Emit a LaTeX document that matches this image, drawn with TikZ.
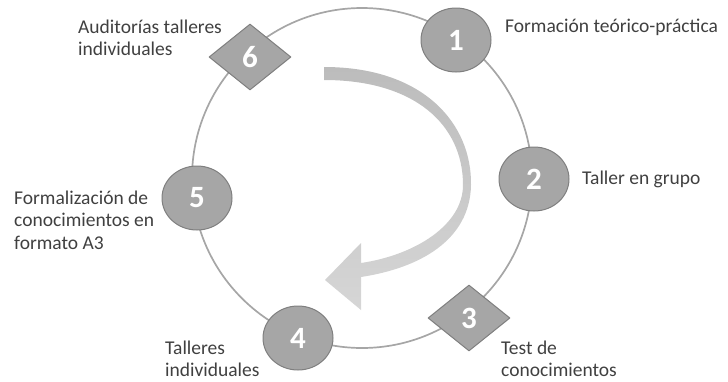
\documentclass[tikz,border=0pt]{standalone}
\usepackage{fontspec}
\setmainfont{Carlito}
\usetikzlibrary{shapes.geometric}
\definecolor{ringgray}{HTML}{A6A6A6}
\definecolor{stepfill}{HTML}{A6A6A6}
\definecolor{stepline}{HTML}{7F7F7F}
\definecolor{textgray}{HTML}{404040}
\definecolor{arrowtop}{HTML}{BCBCBC}
\definecolor{arrowbot}{HTML}{D6D6D6}
\tikzset{
  stepround/.style={ellipse, draw=stepline, fill=stepfill, line width=1pt, minimum width=70pt, minimum height=64pt, inner sep=0pt, text=white, font=\fontsize{31}{31}\selectfont\bfseries},
  stepdiam/.style={diamond, draw=stepline, fill=stepfill, line width=1pt, minimum width=82pt, minimum height=66pt, inner sep=0pt, text=white, font=\fontsize{31}{31}\selectfont\bfseries},
  lbl/.style={anchor=west, align=left, inner sep=0pt, text=textgray, font=\fontsize{19.5}{22.5}\selectfont}
}
\begin{document}
\begin{tikzpicture}[x=1pt, y=-1pt, line join=round, line cap=round]
  \useasboundingbox (0,0) rectangle (728,381);
  % ring
  \draw[ringgray, line width=1.7pt] (362,178) circle (170);
  % curved arrow
  \shade[top color=arrowtop, bottom color=arrowbot]
    (324,67) .. controls (425,67) and (472,125) .. (471,185)
    .. controls (470,240) and (420,268) .. (361,277)
    -- (361,310) -- (325,280) -- (361,243) -- (361,263)
    .. controls (415,255) and (463,225) .. (463,185)
    .. controls (463,125) and (415,80) .. (324,80) -- cycle;
  % steps
  \node[stepround] (s1) at (456,40) {1};
  \node[stepround] (s2) at (534,179) {2};
  \node[stepdiam]  (s3) at (469,318) {3};
  \node[stepround] (s4) at (298,338) {4};
  \node[stepround] (s5) at (197,198) {5};
  \node[stepdiam]  (s6) at (250,57) {6};
  % labels
  \node[lbl] (l1) at (505,27) {Formación teórico-práctica};
  \node[lbl] (l2) at (582,179) {Taller en grupo};
  \node[lbl] (l3) at (501,359) {Test de\\conocimientos};
  \node[lbl] (l4) at (165,359) {Talleres\\individuales};
  \node[lbl] (l5) at (14,220) {Formalización de\\conocimientos en\\formato A3};
  \node[lbl] (l6) at (78,38) {Auditorías talleres\\individuales};
\end{tikzpicture}
\end{document}
